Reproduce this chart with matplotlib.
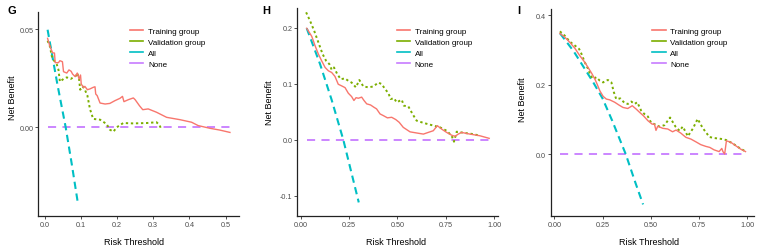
import matplotlib
matplotlib.use("Agg")
import matplotlib.pyplot as plt
from matplotlib.lines import Line2D

plt.rcParams['font.family'] = ['Liberation Sans', 'DejaVu Sans']

# ---------------- data ----------------
series_labels = ["Training group", "Validation group", "All", "None"]

# Panel G
g_train_x = [0.008, 0.015, 0.022, 0.027, 0.029, 0.038, 0.042, 0.049, 0.052, 0.061, 0.067, 0.073, 0.077, 0.084,
             0.090, 0.095, 0.099, 0.101, 0.107, 0.111, 0.118, 0.125, 0.134, 0.139, 0.141, 0.145, 0.153, 0.167,
             0.180, 0.194, 0.208, 0.215, 0.219, 0.231, 0.245, 0.250, 0.262, 0.271, 0.286, 0.309, 0.337, 0.374,
             0.406, 0.424, 0.457, 0.484, 0.512]
g_train_y = [0.0454, 0.041, 0.038, 0.0379, 0.033, 0.033, 0.034, 0.0335, 0.0284, 0.0277, 0.0293, 0.0286, 0.0272, 0.0259,
             0.0277, 0.0247, 0.0267, 0.0221, 0.0204, 0.0209, 0.0192, 0.0196, 0.0204, 0.0207, 0.017, 0.0162, 0.0124, 0.0119,
             0.0122, 0.0136, 0.0148, 0.0158, 0.0131, 0.0141, 0.015, 0.0141, 0.011, 0.009, 0.0094, 0.0077, 0.0051, 0.0039,
             0.0026, 0.0009, -0.0005, -0.0014, -0.0026]
g_valid_x = [0.008, 0.015, 0.019, 0.026, 0.033, 0.038, 0.042, 0.052, 0.061, 0.072, 0.079, 0.087, 0.090, 0.095,
             0.098, 0.105, 0.111, 0.118, 0.125, 0.134, 0.153, 0.171, 0.180, 0.190, 0.199, 0.217, 0.245, 0.282,
             0.309, 0.317, 0.323]
g_valid_y = [0.0442, 0.041, 0.0366, 0.034, 0.0323, 0.0294, 0.0233, 0.0247, 0.0255, 0.0247, 0.0255, 0.0264, 0.0277, 0.0247,
             0.0192, 0.0209, 0.0192, 0.0162, 0.0094, 0.0043, 0.0039, 0.0017, -0.0012, -0.0022, 0.0, 0.0022, 0.002, 0.0022,
             0.0026, 0.0012, -0.0012]
g_all_x = [0.008, 0.035, 0.058, 0.075, 0.091]
g_all_y = [0.0498, 0.022, 0.0, -0.019, -0.0379]
g_none_x = [0.008, 0.512]
g_none_y = [0.0, 0.0]

# Panel H
h_train_x = [0.031, 0.057, 0.074, 0.091, 0.108, 0.126, 0.143, 0.160, 0.177, 0.194, 0.212, 0.229, 0.246, 0.263,
             0.275, 0.286, 0.298, 0.315, 0.327, 0.341, 0.361, 0.378, 0.392, 0.410, 0.427, 0.448, 0.470, 0.491,
             0.509, 0.530, 0.565, 0.599, 0.634, 0.659, 0.685, 0.706, 0.728, 0.754, 0.780, 0.797, 0.814, 0.831,
             0.874, 0.926, 0.974]
h_train_y = [0.199, 0.1845, 0.168, 0.153, 0.141, 0.129, 0.123, 0.120, 0.113, 0.099, 0.096, 0.093, 0.083, 0.077,
             0.070, 0.075, 0.074, 0.076, 0.070, 0.064, 0.062, 0.058, 0.055, 0.046, 0.043, 0.039, 0.040, 0.036,
             0.031, 0.022, 0.014, 0.012, 0.010, 0.013, 0.016, 0.025, 0.019, 0.013, 0.008, 0.006, 0.010, 0.013,
             0.010, 0.007, 0.0024]
h_valid_x = [0.028, 0.048, 0.069, 0.091, 0.113, 0.131, 0.148, 0.160, 0.172, 0.189, 0.207, 0.229, 0.246, 0.263,
             0.285, 0.303, 0.324, 0.350, 0.375, 0.401, 0.418, 0.436, 0.453, 0.465, 0.482, 0.496, 0.522, 0.533,
             0.556, 0.578, 0.599, 0.634, 0.677, 0.720, 0.754, 0.780, 0.792, 0.806, 0.848, 0.892, 0.926]
h_valid_y = [0.2274, 0.2125, 0.195, 0.174, 0.153, 0.141, 0.135, 0.125, 0.129, 0.117, 0.108, 0.1095, 0.105, 0.102,
             0.0935, 0.1065, 0.095, 0.0935, 0.095, 0.102, 0.0994, 0.0905, 0.083, 0.0726, 0.074, 0.0667, 0.0714, 0.0607,
             0.0595, 0.0458, 0.034, 0.030, 0.026, 0.022, 0.016, 0.007, -0.0036, 0.0143, 0.012, 0.010, 0.007]
h_all_x = [0.031, 0.10, 0.16, 0.22, 0.30]
h_all_y = [0.199, 0.135, 0.071, 0.0, -0.112]
h_none_x = [0.031, 0.974]
h_none_y = [0.0, 0.0]

# Panel I
i_train_x = [0.029, 0.055, 0.081, 0.107, 0.132, 0.158, 0.175, 0.193, 0.210, 0.222, 0.236, 0.253, 0.270, 0.287,
             0.313, 0.335, 0.356, 0.381, 0.404, 0.425, 0.442, 0.462, 0.485, 0.507, 0.519, 0.527, 0.536, 0.562,
             0.588, 0.613, 0.631, 0.656, 0.682, 0.708, 0.734, 0.759, 0.785, 0.806, 0.828, 0.854, 0.868, 0.874,
             0.883, 0.892, 0.914, 0.940, 0.966, 0.991]
i_train_y = [0.347, 0.336, 0.321, 0.304, 0.283, 0.264, 0.249, 0.233, 0.216, 0.201, 0.182, 0.166, 0.158, 0.156,
             0.149, 0.141, 0.134, 0.131, 0.139, 0.129, 0.120, 0.110, 0.096, 0.086, 0.086, 0.068, 0.080, 0.074,
             0.072, 0.064, 0.069, 0.060, 0.048, 0.043, 0.035, 0.027, 0.022, 0.019, 0.012, 0.007, 0.016, 0.007,
             0.0, 0.038, 0.034, 0.024, 0.014, 0.007]
i_valid_x = [0.029, 0.055, 0.081, 0.107, 0.129, 0.141, 0.158, 0.175, 0.187, 0.201, 0.218, 0.236, 0.253, 0.266,
             0.278, 0.296, 0.308, 0.321, 0.342, 0.364, 0.381, 0.399, 0.416, 0.430, 0.450, 0.467, 0.485, 0.502,
             0.527, 0.545, 0.571, 0.600, 0.628, 0.649, 0.666, 0.692, 0.718, 0.743, 0.769, 0.804, 0.829, 0.872,
             0.892, 0.923, 0.958, 0.992]
i_valid_y = [0.353, 0.340, 0.323, 0.312, 0.302, 0.288, 0.264, 0.245, 0.227, 0.216, 0.221, 0.211, 0.206, 0.211,
             0.213, 0.206, 0.179, 0.158, 0.160, 0.147, 0.144, 0.151, 0.144, 0.149, 0.125, 0.115, 0.108, 0.090,
             0.084, 0.079, 0.083, 0.105, 0.079, 0.067, 0.079, 0.051, 0.073, 0.101, 0.075, 0.049, 0.046, 0.043,
             0.040, 0.031, 0.018, 0.007]
i_all_x = [0.03, 0.10, 0.20, 0.25, 0.30, 0.37, 0.42, 0.46]
i_all_y = [0.347, 0.296, 0.208, 0.160, 0.096, 0.0, -0.082, -0.145]
i_none_x = [0.03, 0.99]
i_none_y = [0.0, 0.0]

panel_letters = ["G", "H", "I"]
g_xticks = [0.0, 0.1, 0.2, 0.3, 0.4, 0.5]
g_xticklabels = ["0.0", "0.1", "0.2", "0.3", "0.4", "0.5"]
g_yticks = [0.0, 0.05]
g_yticklabels = ["0.00", "0.05"]
hi_xticks = [0.0, 0.25, 0.5, 0.75, 1.0]
hi_xticklabels = ["0.00", "0.25", "0.50", "0.75", "1.00"]
h_yticks = [-0.1, 0.0, 0.1, 0.2]
h_yticklabels = ["-0.1", "0.0", "0.1", "0.2"]
i_yticks = [0.0, 0.2, 0.4]
i_yticklabels = ["0.0", "0.2", "0.4"]

# ---------------- style ----------------
W, H = 760, 251
C_TRAIN = "#F8766D"
C_VALID = "#7CAE00"
C_ALL = "#00BFC4"
C_NONE = "#C77CFF"
TICK_COL = "#4D4D4D"
colors = [C_TRAIN, C_VALID, C_ALL, C_NONE]

fig = plt.figure(figsize=(W / 100, H / 100), dpi=100)


def add_ax(l, r, t, b):
    return fig.add_axes([l / W, 1 - b / H, (r - l) / W, (b - t) / H])


panels = [
    dict(box=(38.3, 239, 13.3, 217.3), xlim=(-0.0177, 0.537), ylim=(-0.0454, 0.0587),
         data=[(g_train_x, g_train_y), (g_valid_x, g_valid_y), (g_all_x, g_all_y), (g_none_x, g_none_y)],
         xt=(g_xticks, g_xticklabels), yt=(g_yticks, g_yticklabels),
         leg=(130, 28.5), letter=(8, 10.5), ylab=(12.3, 98), xlab=(134, 242.7)),
    dict(box=(297.3, 498.3, 9.3, 216.7), xlim=(-0.0176, 1.021), ylim=(-0.1357, 0.2346),
         data=[(h_train_x, h_train_y), (h_valid_x, h_valid_y), (h_all_x, h_all_y), (h_none_x, h_none_y)],
         xt=(hi_xticks, hi_xticklabels), yt=(h_yticks, h_yticklabels),
         leg=(396.7, 28.5), letter=(262.3, 10.5), ylab=(269, 103), xlab=(396, 242.7)),
    dict(box=(551, 754, 10, 216.7), xlim=(-0.0171, 1.035), ylim=(-0.1775, 0.4173),
         data=[(i_train_x, i_train_y), (i_valid_x, i_valid_y), (i_all_x, i_all_y), (i_none_x, i_none_y)],
         xt=(hi_xticks, hi_xticklabels), yt=(i_yticks, i_yticklabels),
         leg=(652.3, 28.5), letter=(517.5, 10.5), ylab=(522.7, 100), xlab=(649, 242.7)),
]

for p, letter in zip(panels, panel_letters):
    ax = add_ax(*p["box"])
    (tx, ty), (vx, vy), (ax_, ay), (nx, ny) = p["data"]
    ax.plot(nx, ny, color=C_NONE, lw=1.3, linestyle=(0, (4.5, 3.5)), zorder=2)
    ax.plot(ax_, ay, color=C_ALL, lw=1.5, linestyle=(0, (3.5, 2.2)), zorder=3)
    ax.plot(vx, vy, color=C_VALID, lw=1.4, linestyle=(0, (1.2, 1.4)), zorder=4)
    ax.plot(tx, ty, color=C_TRAIN, lw=1.0, linestyle="-", zorder=5)
    ax.set_xlim(*p["xlim"])
    ax.set_ylim(*p["ylim"])
    ax.set_xticks(p["xt"][0])
    ax.set_xticklabels(p["xt"][1])
    ax.set_yticks(p["yt"][0])
    ax.set_yticklabels(p["yt"][1])
    ax.tick_params(labelsize=5.2, colors="#333333", labelcolor=TICK_COL, length=2, width=0.6, pad=1.5)
    for s in ["top", "right"]:
        ax.spines[s].set_visible(False)
    for s in ["left", "bottom"]:
        ax.spines[s].set_linewidth(0.9)
        ax.spines[s].set_color("#222222")
    ax.patch.set_alpha(0)

    handles = [Line2D([0], [0], color=c, lw=1.2) for c in colors]
    lx, ly = p["leg"]
    ax.legend(handles, series_labels, loc="upper left",
              bbox_to_anchor=(lx / W, 1 - ly / H), bbox_transform=fig.transFigure,
              frameon=False, fontsize=5.8, handlelength=1.65, handletextpad=0.6,
              labelspacing=0.42, borderpad=0, borderaxespad=0)

    fig.text(p["letter"][0] / W, 1 - p["letter"][1] / H, letter, fontsize=8, fontweight="bold",
             ha="left", va="center")
    fig.text(p["ylab"][0] / W, 1 - p["ylab"][1] / H, "Net Benefit", fontsize=6.5, rotation=90,
             ha="center", va="center")
    fig.text(p["xlab"][0] / W, 1 - p["xlab"][1] / H, "Risk Threshold", fontsize=6.5,
             ha="center", va="center")

fig.savefig("out.png", dpi=100)
